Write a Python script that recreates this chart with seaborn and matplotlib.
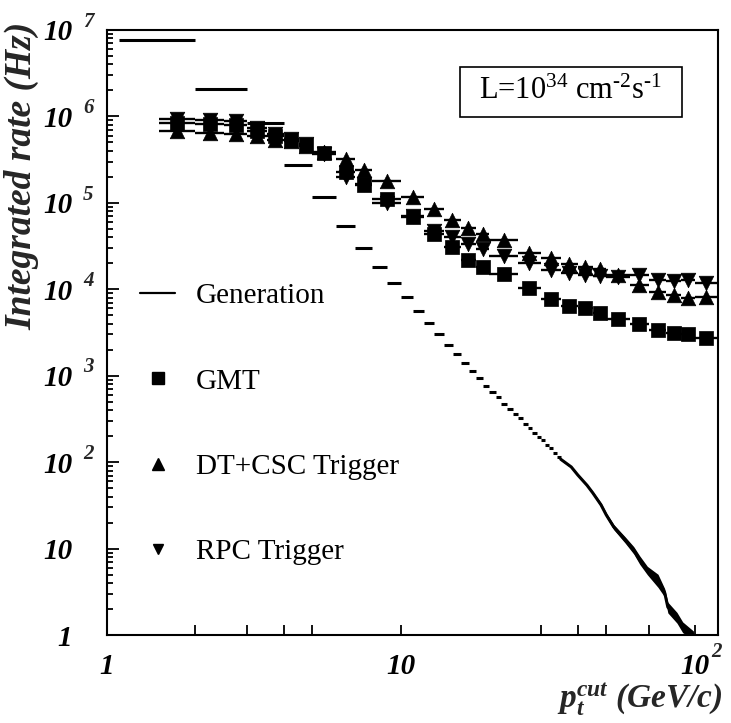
import numpy as np
import pandas as pd
import matplotlib
matplotlib.use("Agg")
import matplotlib.pyplot as plt
import seaborn as sns
from matplotlib.lines import Line2D
from matplotlib.patches import Rectangle
from matplotlib.ticker import FixedLocator, FixedFormatter, NullFormatter

# ---------------- data ----------------
bin_edges = [1.5, 2, 2.5, 3, 3.5, 4, 4.5, 5, 6, 7, 8, 10, 12, 14, 16, 18, 20,
             25, 30, 35, 40, 45, 50, 60, 70, 80, 90, 100, 120]
gmt_rate = [8.5e5, 8.2e5, 7.9e5, 6.8e5, 6.0e5, 5.4e5, 4.7e5, 3.8e5, 2.3e5, 1.6e5,
            1.1e5, 6.8e4, 4.4e4, 3.1e4, 2.2e4, 1.8e4, 1.5e4, 1.04e4, 7.7e3, 6.4e3,
            6.1e3, 5.3e3, 4.5e3, 4.0e3, 3.4e3, 3.1e3, 3.0e3, 2.75e3]
dtcsc_rate = [6.8e5, 6.5e5, 6.3e5, 6.0e5, 5.4e5, 5.2e5, 4.6e5, 3.9e5, 3.2e5, 2.4e5,
              1.8e5, 1.17e5, 8.5e4, 6.3e4, 5.1e4, 4.4e4, 3.7e4, 2.6e4, 2.3e4, 1.95e4,
              1.8e4, 1.7e4, 1.45e4, 1.12e4, 9.3e3, 8.5e3, 8.0e3, 8.2e3]
rpc_rate = [9.4e5, 9.0e5, 8.8e5, 7.3e5, 6.3e5, 5.5e5, 4.8e5, 3.7e5, 2.0e5, 1.65e5,
            1.0e5, 7.0e4, 4.7e4, 4.0e4, 3.3e4, 2.9e4, 2.4e4, 2.0e4, 1.65e4, 1.55e4,
            1.47e4, 1.43e4, 1.4e4, 1.47e4, 1.29e4, 1.25e4, 1.29e4, 1.19e4]

gen_edges = [1.1, 2, 3, 4, 5, 6, 7, 8, 9, 10, 11, 12, 13, 14, 15, 16, 17, 18, 19,
             20, 21, 22, 23, 24, 25, 26, 27, 28, 29, 30, 31, 32, 33, 34, 35]
gen_rate = [7.7e6, 2.08e6, 8.4e5, 2.75e5, 1.17e5, 5.4e4, 3.0e4, 1.8e4, 1.19e4, 8.2e3,
            5.6e3, 4.1e3, 3.05e3, 2.27e3, 1.79e3, 1.41e3, 1.14e3, 940, 760, 650,
            570, 470, 410, 360, 320, 275, 250, 220, 195, 180, 160, 145, 127, 114]
gen_tail_pt = [35, 38, 40, 43, 45, 48, 50, 53, 58, 62, 65, 69, 75, 79, 81, 87, 91, 99]
gen_tail_rate = [108, 88, 71, 54, 44, 32, 24.5, 17.8, 12.6, 9.6, 7.4, 5.6, 4.3, 3.1,
                 2.1, 1.6, 1.24, 1.0]
gen_tail_err = [0.027, 0.027, 0.027, 0.027, 0.041, 0.055, 0.055, 0.069, 0.083, 0.098,
                0.112, 0.112, 0.173, 0.112, 0.142, 0.142, 0.142, 0.112]

series_names = ["Generation", "GMT", "DT+CSC Trigger", "RPC Trigger"]

x_major = [1, 10, 100]
x_major_base = ["1", "10", "10"]
x_major_exp = ["", "", "2"]
x_minor = [2, 3, 4, 5, 30, 40, 50, 70]
y_major = [1, 10, 1e2, 1e3, 1e4, 1e5, 1e6, 1e7]
y_major_base = ["1", "10", "10", "10", "10", "10", "10", "10"]
y_major_exp = ["", "", "2", "3", "4", "5", "6", "7"]

lumi_text = "L=10$^{34}$ cm$^{\u2010 2}$s$^{\u2010 1}$"
x_title = r"$\mathbf{p}_{\mathbf{t}}^{\mathbf{cut}}$ (GeV/c)"
y_title = "Integrated rate (Hz)"

# ---------------- style ----------------
sns.set_theme(style="ticks")
plt.rcParams["font.family"] = ["Liberation Serif", "DejaVu Serif"]
plt.rcParams["mathtext.fontset"] = "custom"
plt.rcParams["mathtext.rm"] = "Liberation Serif"
plt.rcParams["mathtext.it"] = "Liberation Serif:italic"
plt.rcParams["mathtext.bf"] = "Liberation Serif:bold:italic"
plt.rcParams["axes.linewidth"] = 1.5

W, H = 731, 723
fig = plt.figure(figsize=(W / 100, H / 100), dpi=100)
fig.patch.set_facecolor("white")
L, R, T, B = 107, 718, 30, 635
ax = fig.add_axes([L / W, (H - B) / H, (R - L) / W, (B - T) / H])
ax.set_facecolor("white")

edges = np.array(bin_edges)
lo, hi = edges[:-1], edges[1:]
centers = np.sqrt(lo * hi)
df = pd.DataFrame({"pt": centers, "lo": lo, "hi": hi,
                   "GMT": gmt_rate, "DT+CSC Trigger": dtcsc_rate,
                   "RPC Trigger": rpc_rate})

# Generation: staircase then dense tail
ge = np.array(gen_edges)
ax.hlines(gen_rate, ge[:-1], ge[1:], colors="black", lw=2.2, zorder=2)
tail = pd.DataFrame({"pt": gen_tail_pt, "rate": gen_tail_rate})
trate = np.array(gen_tail_rate)
terr = np.array(gen_tail_err)
ax.fill_between(gen_tail_pt, trate * (1 - terr), trate * (1 + terr),
                color="black", lw=0, zorder=2)
sns.lineplot(data=tail, x="pt", y="rate", color="black", lw=2.2, ax=ax,
             zorder=2, sort=False, legend=False)

# Trigger series with x-bin bars
styles = {"GMT": ("s", 95), "DT+CSC Trigger": ("^", 110), "RPC Trigger": ("v", 110)}
for name in ["GMT", "DT+CSC Trigger", "RPC Trigger"]:
    ax.errorbar(df["pt"], df[name], xerr=[df["pt"] - df["lo"], df["hi"] - df["pt"]],
                fmt="none", ecolor="black", elinewidth=1.7, capsize=0, zorder=3)
    mk, s = styles[name]
    sns.scatterplot(data=df, x="pt", y=name, marker=mk, s=s, color="black",
                    edgecolor="black", linewidth=0.5, ax=ax, zorder=4, legend=False)

ax.set_xscale("log")
ax.set_yscale("log")
ax.set_xlim(1, 120)
ax.set_ylim(1, 1e7)

# ticks
ax.xaxis.set_major_locator(FixedLocator(x_major))
ax.xaxis.set_major_formatter(FixedFormatter(x_major_base))
ax.xaxis.set_minor_locator(FixedLocator(x_minor))
ax.xaxis.set_minor_formatter(NullFormatter())
ax.yaxis.set_major_locator(FixedLocator(y_major))
ax.yaxis.set_major_formatter(FixedFormatter(y_major_base))
ax.yaxis.set_minor_locator(matplotlib.ticker.LogLocator(base=10, subs=np.arange(2, 10)))
ax.yaxis.set_minor_formatter(NullFormatter())
ax.tick_params(axis="both", which="both", direction="in", top=False, right=False,
               color="black", width=1.3)
ax.tick_params(axis="x", which="both", length=7.5, pad=13)
ax.tick_params(axis="y", which="major", length=8.5, pad=25)
ax.tick_params(axis="y", which="minor", length=4.5)
for lab in ax.get_xticklabels() + ax.get_yticklabels():
    lab.set_fontsize(21)
    lab.set_fontweight("bold")
    lab.set_fontstyle("italic")
    lab.set_color("black")

for v, e in zip(y_major, y_major_exp):
    if e:
        ax.annotate(e, xy=(-0.039, v), xycoords=("axes fraction", "data"),
                    xytext=(0, 6), textcoords="offset points", ha="left", va="center",
                    fontsize=15, fontweight="bold", fontstyle="italic")
for v, e in zip(x_major, x_major_exp):
    if e:
        ax.annotate(e, xy=(v, 0), xycoords=("data", "axes fraction"),
                    xytext=(12, -12), textcoords="offset points", ha="left", va="center",
                    fontsize=15, fontweight="bold", fontstyle="italic")

for sp in ax.spines.values():
    sp.set_visible(True)
    sp.set_color("black")
    sp.set_linewidth(1.5)

# axis titles
ax.set_ylabel(y_title, fontsize=27, fontweight="bold", fontstyle="italic", loc="top")
ax.yaxis.set_label_coords(-0.110, 1.013)
ax.set_xlabel(x_title, fontsize=24, fontweight="bold", fontstyle="italic", loc="right")
ax.xaxis.set_label_coords(1.007, -0.076)

# luminosity box
ax.add_patch(Rectangle(((460 - L) / (R - L), (B - 117) / (B - T)), 222 / (R - L),
                       50 / (B - T), transform=ax.transAxes, fill=False,
                       ec="black", lw=1.2, zorder=5))
ax.text((570 - L) / (R - L), (B - 91) / (B - T), lumi_text, transform=ax.transAxes,
        ha="center", va="center", fontsize=22, color="black", zorder=6)

# legend
handles = [Line2D([], [], color="black", lw=1.6),
           Line2D([], [], ls="none", marker="s", ms=8.5, color="black"),
           Line2D([], [], ls="none", marker="^", ms=9, color="black"),
           Line2D([], [], ls="none", marker="v", ms=7.5, color="black")]
leg = ax.legend(handles, series_names, loc="center left",
                bbox_to_anchor=(140 / W, 1 - 424 / H), bbox_transform=fig.transFigure,
                frameon=False, borderpad=0, borderaxespad=0, fontsize=21,
                handlelength=1.2, handletextpad=0.72, labelspacing=2.02)
for t in leg.get_texts():
    t.set_color("black")

fig.savefig("out.png", dpi=100, facecolor="white")
